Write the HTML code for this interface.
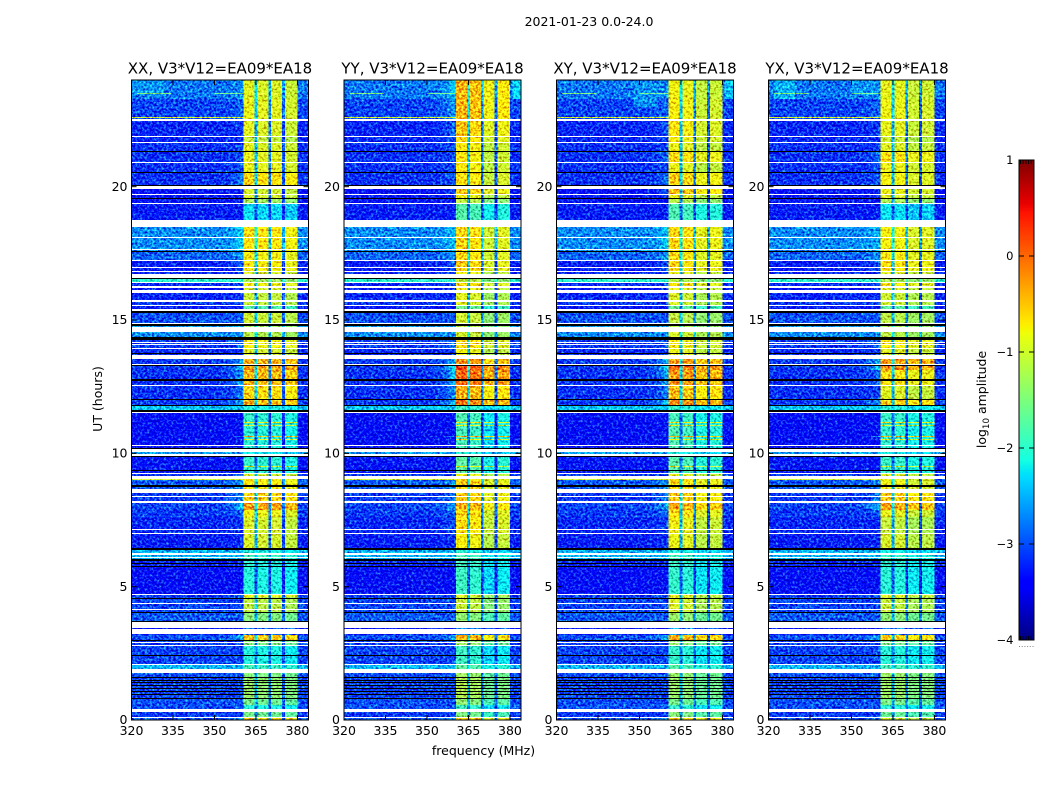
<!DOCTYPE html>
<html lang="en">
<head>
<meta charset="utf-8">
<title>2021-01-23 0.0-24.0 waterfall</title>
<style>
html,body{margin:0;padding:0;background:#fff;}
svg{display:block;}
text{font-family:"DejaVu Sans","Liberation Sans",sans-serif;fill:#000;}
</style>
</head>
<body>
<svg id="chart" xmlns="http://www.w3.org/2000/svg" width="1050" height="800" viewBox="0 0 1050 800">
  <defs>
    <filter id="speckle" filterUnits="userSpaceOnUse" x="120" y="70" width="840" height="660" color-interpolation-filters="sRGB">
      <feTurbulence type="fractalNoise" baseFrequency="0.42 0.44" numOctaves="2" seed="7" result="t"/>
      <feColorMatrix in="t" type="matrix" values="0.4 0 0 0 0.3  1 0 0 0 0  0.5 0 0 0 0.25  0 0 0 0 1" result="n"/>
      <feComposite in="SourceGraphic" in2="n" operator="arithmetic" k1="0" k2="1" k3="1.7" k4="-0.85" result="m"/>
      <feComposite in="m" in2="SourceAlpha" operator="in"/>
    </filter>
  </defs>
  <text x="589" y="26" font-size="12.5" text-anchor="middle">2021-01-23 0.0-24.0</text>
  <text x="483.5" y="755" font-size="12.5" text-anchor="middle">frequency (MHz)</text>
  <text x="0" y="0" font-size="12.5" text-anchor="middle" transform="translate(102 399) rotate(-90)">UT (hours)</text>
  <text x="0" y="0" font-size="12.5" text-anchor="middle" transform="translate(986 399.5) rotate(-90)">log<tspan font-size="8.7" dy="3">10</tspan><tspan dy="-3"> amplitude</tspan></text>
  <g id="panels"></g>
  <g id="colorbar"></g>
</svg>
<script>
// ---- chart data ----
const panelNames = ["XX", "YY", "XY", "YX"];
const panelSuffix = ", V3*V12=EA09*EA18";
const xTicks = [320, 335, 350, 365, 380];
const yTicks = [0, 5, 10, 15, 20];
const colorbarTicks = [1, 0, -1, -2, -3, -4];

// time segments: hour at which each segment starts, background level, band level per polarisation
const segStart = [0,.09,.4,.56,.78,1.62,1.91,2.09,2.8,2.95,3.2,3.66,4.05,4.6,4.72,5.72,6.05,6.26,6.43,7,7.6,7.88,8.15,8.66,9.15,9.26,9.48,9.53,9.9,10.2,10.5,10.55,10.6,10.65,11.01,11.05,11.12,11.16,11.62,11.8,12.04,12.58,13.13,13.3,13.69,13.95,14.38,14.75,14.89,15.35,15.56,15.75,16.11,16.26,16.43,16.71,16.85,17.25,17.58,18.76,19.39,19.56,19.73,20.08,20.55,20.93,21.34,21.68,21.9,22.52,23.3];
const bgLevel = [-3,-3.1,-3,-3,-3.05,-3,-2.5,-3.05,-3.1,-3,-3.3,-2.95,-3.05,-3.1,-3.35,-3.2,-2.5,-2.5,-3.25,-3.2,-3.1,-3.05,-3.1,-2.95,-3.1,-3.3,-3.3,-3.3,-2.6,-3.35,-3.35,-3.35,-3.35,-3.35,-3.35,-3.35,-3.35,-3.35,-2.4,-3.1,-3.15,-3.15,-3.1,-3.1,-3.2,-3.1,-2.7,-2.6,-3,-3.3,-3.1,-3.2,-3.3,-3.2,-2,-3.2,-3.25,-2.9,-2.7,-3.25,-3.3,-3.3,-3.35,-3.15,-3.15,-3.15,-3.15,-3.2,-3.2,-3.05,-2.8];
const bandXX = [-.6,-1.6,-2.1,-1.6,-1.4,-1.5,-1.9,-2.1,-1.5,-.5,-2.8,-1.5,-1.15,-.85,-2.1,-2.05,-1.9,-2.1,-1,-1,-.85,-.3,-.6,-.75,-1,-2,-1,-2,-2.2,-2.05,-.9,-2.05,-.4,-2.05,-1,-2,-.8,-2,-2.1,-.45,-.65,-.45,-.3,-.4,-1,-.8,-1.2,-1.3,-1.05,-1.8,-1.1,-1.1,-1,-.8,-1.3,-1,-.75,-.8,-.7,-2.3,-1.3,-1,-1,-.65,-.9,-.9,-.95,-1.1,-.95,-.9,-.95];
const bandYY = [-.7,-1.7,-2.1,-1.6,-1.4,-1.5,-1.9,-2.1,-1.5,-.55,-2.8,-1.6,-1.25,-1.1,-2.1,-2.05,-2,-2.2,-.95,-.85,-.8,-.55,-.7,-.75,-1,-1.9,-1,-1.9,-2.2,-2.05,-.9,-2.05,-.4,-2.05,-1,-2,-.8,-2,-2.1,-.3,-.55,-.2,0,-.4,-1,-.8,-1.2,-1.3,-1.2,-1.8,-1.1,-1.1,-1,-.8,-1.3,-1,-.75,-.8,-.8,-1.95,-1.3,-1,-.7,-.85,-.9,-.9,-.9,-.8,-.7,-.6,-.6];
const bandXY = [-.7,-1.6,-2.1,-1.7,-1.5,-1.5,-1.9,-2.1,-1.5,-.5,-2.8,-1.5,-1.1,-1,-2.1,-2.05,-2,-2.2,-1,-.95,-.8,-.45,-.65,-.75,-1,-1.9,-1,-1.9,-2.2,-1.95,-.9,-1.95,-.4,-1.95,-1,-2,-.8,-2,-2.1,-.3,-.6,-.35,-.15,-.4,-1,-.9,-1.1,-1.3,-1.25,-1.8,-1.1,-1.1,-1,-.8,-1.3,-1,-.75,-.8,-.75,-1.95,-1.3,-1,-.6,-.7,-1,-.75,-1,-.9,-.85,-.9,-.95];
const bandYX = [-1,-1.7,-2.1,-1.6,-1.4,-1.4,-1.9,-2.1,-1.6,-.6,-2.8,-1.5,-1.15,-.95,-2.1,-2.05,-2,-2.2,-1.05,-1.15,-.95,-.4,-.6,-.9,-1,-2,-1,-2,-2.2,-2.05,-.9,-2.05,-.4,-2.05,-1,-2,-.8,-2,-2.1,-.6,-1,-.75,-.25,-.35,-1,-.8,-1.2,-1.3,-1.2,-1.8,-1.1,-1.1,-1,-.8,-1.3,-1,-.75,-.8,-.85,-2.3,-1.3,-1,-.9,-.85,-.9,-.75,-1,-1.1,-.95,-.9,-.95];

// per-channel response (128 half-MHz channels, 320-384 MHz): fraction of the band level reached
const bandWeight = [
  0,0,0,0,0,0,0,0,0,0,0,0,0,0,0,0, 0,0,0,0,0,0,0,0,0,0,0,0,0,0,0,0,
  0,0,0,0,0,0,0,0,0,0,0,0,0,0,0,0, 0,0,0,0,0,0,0,0,0,0,0,0,0,0,0,0,
  0,0,0,0,0,0,0,0,0,0,0,0,0,0,0,0, 0,1,1,1,1,1,1,1,1,.3,.3,1,1,1,1,1,
  1,1,1,.15,.15,1,1,1,1,1,1,1,1,.08,.08,1, 1,1,1,1,1,1,1,1,0,0,0,0,0,0,0,0];
const leakWeight = [
  0,0,0,0,0,0,0,0,0,0,0,0,0,0,0,0, 0,0,0,0,0,0,0,0,0,0,0,0,0,0,0,0,
  0,0,0,0,0,0,0,0,0,0,0,0,0,0,0,0, 0,0,0,0,0,0,0,0,0,0,0,0,0,0,0,0,
  .05,.05,.1,.1,.15,.15,.2,.2,.3,.3,.4,.4,.6,.6,.8,.8, .8,0,0,0,0,0,0,0,0,0,0,0,0,0,0,0,
  0,0,0,0,0,0,0,0,0,0,0,0,0,0,0,0, 0,0,0,0,0,0,0,0,0,0,0,0,0,0,0,0];
// level offset of the four sub-bands, per polarisation
const subbandFirst = [81, 91, 101, 111];
const tiltXX = [.05, 0, 0, -.1];
const tiltYY = [.2, .12, -.22, -.12];
const tiltXY = [.15, .08, -.15, -.1];
const tiltYX = [.08, .05, -.12, -.08];

// flagged time ranges (hours): white = no data, black = zero amplitude
const whiteStart = [.08,.29,1.77,2.05,2.79,2.89,3.22,3.46,4.13,4.35,4.69,6.08,6.18,6.98,7.13,8.15,8.36,8.5,9.04,9.22,9.9,10.06,10.28,10.86,11.51,12.54,13.3,13.54,13.91,14.06,14.14,14.56,14.85,15.35,15.51,15.69,16.03,16.2,16.37,16.59,16.81,16.96,17.21,17.62,18.08,18.49,19.35,19.69,19.91,20.89,21.64,21.86,22.46];
const whiteEnd = [.11,.4,1.91,2.09,2.83,2.93,3.41,3.66,4.16,4.39,4.72,6.11,6.26,7.01,7.16,8.21,8.4,8.66,9.15,9.26,9.96,10.16,10.31,10.89,11.55,12.58,13.34,13.69,13.95,14.11,14.18,14.75,14.89,15.4,15.56,15.75,16.11,16.26,16.43,16.71,16.85,17,17.25,17.66,18.11,18.76,19.39,19.73,20.01,20.93,21.68,21.9,22.52];
const blackStart = [.8,.92,1.04,1.17,1.27,1.37,1.47,1.57,2.39,2.95,3.66,4.02,4.54,5.72,5.85,5.98,6.41,8.74,9.34,9.87,10.16,11.55,11.76,12,12.72,13.27,13.74,14.25,14.79,15.28,16.56,17.54,19.52,20.03,20.5,21.3];
const blackEnd = [.84,.96,1.08,1.21,1.31,1.41,1.51,1.61,2.43,2.99,3.7,4.06,4.58,5.76,5.89,6.02,6.45,8.8,9.38,9.9,10.21,11.62,11.81,12.04,12.77,13.3,13.78,14.38,14.85,15.35,16.59,17.58,19.56,20.08,20.55,21.34];

// narrow interference lines: hours, channel range, level
const rfiStart = [23.49, 23.49, 22.56, 14.12, 9.0];
const rfiEnd = [23.53, 23.53, 22.62, 14.18, 9.04];
const rfiFirst = [4, 60, 0, 0, 0];
const rfiLast = [28, 80, 80, 44, 80];
const rfiValue = [-1.5, -1.6, -1.0, -0.6, -1.0];

// brighter patches at the top of individual panels: panel index, hours, channel range, level
const patchPanel = [3, 3, 2, 1, 2, 0];
const patchStart = [23.3, 23.4, 23.0, 23.3, 23.3, 23.4];
const patchEnd = [24, 24, 23.9, 24, 24, 24];
const patchFirst = [4, 60, 56, 122, 122, 0];
const patchLast = [18, 76, 72, 127, 127, 24];
const patchValue = [-2.5, -2.65, -2.65, -2.3, -2.4, -2.65];

// ---- scales ----
const panelLeft = [131.5, 344, 556.5, 768.5];
const panelWidth = 177;
const plotTop = 80, plotBottom = 720;
const hourMax = 24, freqMin = 320, freqMax = 384, channelCount = 128;
const channelMHz = (freqMax - freqMin) / channelCount;
const bandLevels = [bandXX, bandYY, bandXY, bandYX];
const tilts = [tiltXX, tiltYY, tiltXY, tiltYX];

function xScale(panel, mhz) { return panelLeft[panel] + (mhz - freqMin) / (freqMax - freqMin) * panelWidth; }
function yScale(hour) { return plotBottom - hour / hourMax * (plotBottom - plotTop); }

const jetR = [[0,0],[.35,0],[.66,1],[.89,1],[1,.5]];
const jetG = [[0,0],[.125,0],[.375,1],[.64,1],[.91,0],[1,0]];
const jetB = [[0,.5],[.11,1],[.34,1],[.65,0],[1,0]];
function lut(table, t) {
  for (let i = 1; i < table.length; i++) {
    if (t <= table[i][0]) {
      const a = table[i - 1], b = table[i];
      return a[1] + (b[1] - a[1]) * (t - a[0]) / (b[0] - a[0]);
    }
  }
  return table[table.length - 1][1];
}
function colorScale(v) {
  const t = Math.max(0, Math.min(1, (v + 4) / 5));
  return "rgb(" + Math.round(255 * lut(jetR, t)) + "," + Math.round(255 * lut(jetG, t)) + "," + Math.round(255 * lut(jetB, t)) + ")";
}

const NS = "http://www.w3.org/2000/svg";
function make(parent, tag, attrs) {
  const el = document.createElementNS(NS, tag);
  for (const k in attrs) el.setAttribute(k, attrs[k]);
  parent.appendChild(el);
  return el;
}
function inRanges(h, starts, ends) {
  for (let i = 0; i < starts.length; i++) if (h >= starts[i] && h < ends[i]) return true;
  return false;
}
function segmentAt(h) {
  let s = 0;
  for (let i = 0; i < segStart.length; i++) if (segStart[i] <= h) s = i;
  return s;
}
function subbandAt(ch) {
  let s = 0;
  for (let i = 0; i < subbandFirst.length; i++) if (ch >= subbandFirst[i]) s = i;
  return s;
}
function cellValue(p, h, seg, ch) {
  for (let i = 0; i < rfiStart.length; i++) {
    if (h >= rfiStart[i] && h < rfiEnd[i] && ch >= rfiFirst[i] && ch <= rfiLast[i]) return rfiValue[i];
  }
  for (let i = 0; i < patchStart.length; i++) {
    if (patchPanel[i] === p && h >= patchStart[i] && h < patchEnd[i] && ch >= patchFirst[i] && ch <= patchLast[i]) return patchValue[i];
  }
  const bg = bgLevel[seg];
  const band = bandLevels[p][seg];
  const w = bandWeight[ch];
  if (w > 0) return bg + (band + tilts[p][subbandAt(ch)] - bg) * w;
  return bg + leakWeight[ch] * Math.max(0, band + 1.1);
}

// row edges are every hour at which anything changes
const edgeSet = new Set([0, hourMax]);
[segStart, whiteStart, whiteEnd, blackStart, blackEnd, rfiStart, rfiEnd, patchStart, patchEnd].forEach(function (arr) {
  arr.forEach(function (h) { edgeSet.add(h); });
});
const rowEdges = Array.from(edgeSet).sort(function (a, b) { return a - b; });

const panelsRoot = document.getElementById("panels");
panelNames.forEach(function (name, p) {
  const x0 = panelLeft[p];
  const panel = make(panelsRoot, "g", {});
  
  

  const cells = make(panel, "g", { filter: "url(#speckle)", "shape-rendering": "crispEdges" });
  
  
  const blacks = make(panel, "g", { "shape-rendering": "crispEdges" });
  
  

  for (let r = 0; r + 1 < rowEdges.length; r++) {
    const h0 = rowEdges[r], h1 = rowEdges[r + 1], mid = (h0 + h1) / 2;
    const yTop = Math.round(yScale(h1));
    let yBottom = Math.round(yScale(h0));
    const isWhite = inRanges(mid, whiteStart, whiteEnd);
    if (isWhite) continue;
    if (inRanges(mid, blackStart, blackEnd)) {
      if (yBottom === yTop) yBottom = yTop + 1;
      const bar = make(blacks, "rect", { x: x0, y: yTop, width: panelWidth, height: yBottom - yTop, fill: "#000" });
      
      
      continue;
    }
    if (yBottom === yTop) continue;
    const seg = segmentAt(mid);
    let runStart = 0, runColor = colorScale(cellValue(p, mid, seg, 0));
    for (let ch = 1; ch <= channelCount; ch++) {
      const color = ch < channelCount ? colorScale(cellValue(p, mid, seg, ch)) : null;
      if (color !== runColor) {
        const xa = xScale(p, freqMin + runStart * channelMHz), xb = xScale(p, freqMin + ch * channelMHz);
        const cell = make(cells, "rect", { x: xa, y: yTop, width: xb - xa, height: yBottom - yTop, fill: runColor });
        
        
        runStart = ch;
        runColor = color;
      }
    }
  }

  const frame = make(panel, "rect", { x: x0, y: plotTop, width: panelWidth, height: plotBottom - plotTop, fill: "none", stroke: "#000", "stroke-width": 1 });
  
  

  const title = make(panel, "text", { x: x0 + panelWidth / 2, y: 73.5, "font-size": 15, "text-anchor": "middle" });
  title.textContent = name + panelSuffix;
  
  

  xTicks.forEach(function (mhz) {
    const x = xScale(p, mhz);
    const tickB = make(panel, "line", { x1: x, x2: x, y1: plotBottom, y2: plotBottom - 5, stroke: "#000" });
    
    
    const tickT = make(panel, "line", { x1: x, x2: x, y1: plotTop, y2: plotTop + 5, stroke: "#000" });
    
    
    const label = make(panel, "text", { x: x, y: 735, "font-size": 12.5, "text-anchor": "middle" });
    label.textContent = mhz;
    
    
  });
  yTicks.forEach(function (hour) {
    const y = yScale(hour);
    const tickL = make(panel, "line", { x1: x0, x2: x0 + 5, y1: y, y2: y, stroke: "#000" });
    
    
    const tickR = make(panel, "line", { x1: x0 + panelWidth, x2: x0 + panelWidth - 5, y1: y, y2: y, stroke: "#000" });
    
    
    const label = make(panel, "text", { x: x0 - 4, y: y + 4.2, "font-size": 12.5, "text-anchor": "end" });
    label.textContent = hour;
    
    
  });
});

// ---- colour bar ----
const barLeft = 1019, barWidth = 15, barTop = 160, barBottom = 640, barMin = -4, barMax = 1;
function barY(v) { return barBottom - (v - barMin) / (barMax - barMin) * (barBottom - barTop); }
const barRoot = document.getElementById("colorbar");
const barSteps = 240;
for (let i = 0; i < barSteps; i++) {
  const v0 = barMin + (barMax - barMin) * i / barSteps;
  const v1 = barMin + (barMax - barMin) * (i + 1) / barSteps;
  const slice = make(barRoot, "rect", { x: barLeft, y: barY(v1), width: barWidth, height: barY(v0) - barY(v1) + 0.3, fill: colorScale((v0 + v1) / 2) });
  
  
}
const barFrame = make(barRoot, "rect", { x: barLeft, y: barTop, width: barWidth, height: barBottom - barTop, fill: "none", stroke: "#000", "stroke-width": 1 });


colorbarTicks.forEach(function (v) {
  const y = barY(v);
  const tickA = make(barRoot, "line", { x1: barLeft, x2: barLeft + 5, y1: y, y2: y, stroke: "#000" });
  
  
  const tickB = make(barRoot, "line", { x1: barLeft + barWidth, x2: barLeft + barWidth - 5, y1: y, y2: y, stroke: "#000" });
  
  
  const label = make(barRoot, "text", { x: 1013.5, y: y + 4, "font-size": 11.5, "text-anchor": "end" });
  label.textContent = v < 0 ? "\u2212" + Math.abs(v) : String(v);
  
  
});
for (let i = 0; i < 6; i++) {
  const x = barLeft + 1.5 + i * 2.7;
  const tickTop = make(barRoot, "line", { x1: x, x2: x, y1: barTop, y2: barTop + 4, stroke: "#000" });
  
  
  const tickBottom = make(barRoot, "line", { x1: x, x2: x, y1: barBottom, y2: barBottom - 4, stroke: "#000" });
  
  
  const dot = make(barRoot, "rect", { x: x - 1.5, y: 646, width: 1, height: 1, fill: "#888" });
  
  
}
</script>
</body>
</html>
